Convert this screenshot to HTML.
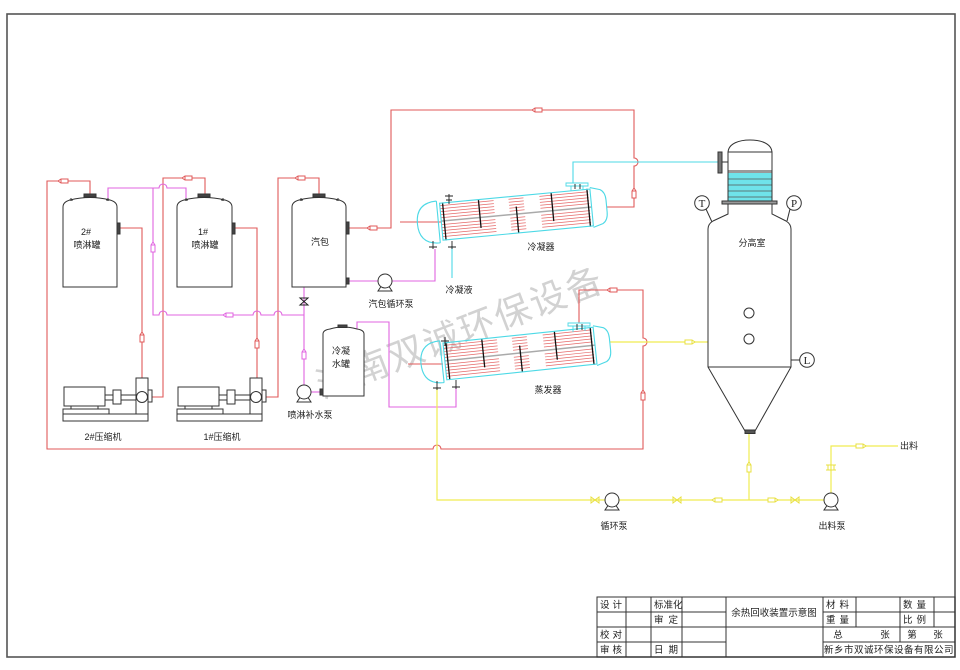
<!DOCTYPE html>
<html><head><meta charset="utf-8">
<style>
html,body{margin:0;padding:0;background:#fff;}
svg{display:block;}
text{font-family:"Liberation Sans","Noto Sans CJK SC",sans-serif;font-size:9px;fill:#222;}
.tb text{font-size:9.5px;}
</style></head>
<body>
<svg width="960" height="670" viewBox="0 0 960 670" xmlns="http://www.w3.org/2000/svg">
<defs>
  <g id="ah"><path d="M-5,0 L-2,-2 L5,-2 L5,2 L-2,2 Z" fill="#fff"/><line x1="-2" y1="-2" x2="-2" y2="2"/></g>
  <g id="vh"><path d="M-4,-3 V3 L4,-3 V3 Z" fill="none"/></g>
  <g id="pump"><circle cx="0" cy="0" r="7" fill="#fff"/><path d="M-4,5.5 L-7,10 H7 L4,5.5" fill="none"/></g>
</defs>

<!-- outer frame -->
<rect x="7" y="14" width="948" height="643" fill="none" stroke="#555" stroke-width="1.6"/>

<!-- watermark -->
<text x="460" y="345" text-anchor="middle" transform="rotate(-21 460 332)" style="font-size:36px;fill:#d2d2d2;letter-spacing:2px;font-family:'Noto Sans CJK SC',sans-serif;">河南双诚环保设备</text>

<!-- ============ RED PIPES ============ -->
<g fill="none" stroke="#e05a5a" stroke-width="1.1">
  <path d="M579,323 V290 H643 V338 A4,4 0 0 1 643,346 V449 H441 A4,4 0 0 0 433,449 H47 V181 H90 V196"/>
  <path d="M120,228 H142 V378"/>
  <path d="M152,397 H163 V178 H205 V196"/>
  <path d="M235,228 H257 V378"/>
  <path d="M266,397 H278 V178 H319 V196"/>
  <path d="M349,228 H391 V110 H634 V158 A4,4 0 0 1 634,166 V207 H607"/>
  <line x1="400" y1="222" x2="441" y2="222"/>
  <line x1="408" y1="364" x2="443" y2="364"/>
</g>
<g stroke="#e05a5a" stroke-width="1">
  <use href="#ah" transform="translate(63,181)"/>
  <use href="#ah" transform="translate(142,337) rotate(90)"/>
  <use href="#ah" transform="translate(187,178)"/>
  <use href="#ah" transform="translate(257,343) rotate(90)"/>
  <use href="#ah" transform="translate(300,178)"/>
  <use href="#ah" transform="translate(372,228)"/>
  <use href="#ah" transform="translate(537,110)"/>
  <use href="#ah" transform="translate(634,193) rotate(90)"/>
  <use href="#ah" transform="translate(612,290)"/>
  <use href="#ah" transform="translate(643,395) rotate(90)"/>
</g>

<!-- ============ MAGENTA PIPES ============ -->
<g fill="none" stroke="#e065e0" stroke-width="1.1">
  <path d="M108,200 V188 H159 A4,4 0 0 1 167,188 H186 V200"/>
  <path d="M153,188 V315 H159 A4,4 0 0 1 167,315 H253 A4,4 0 0 1 261,315 H274 A4,4 0 0 1 282,315 H304"/>
  <path d="M304,287 V385"/>
  <path d="M311,392 H322"/>
  <path d="M357,330 V322 H389 V407 H456 V387"/>
  <path d="M349,281 H378"/>
  <path d="M392,281 H435 V249"/>
</g>
<g stroke="#e065e0" stroke-width="1">
  <use href="#ah" transform="translate(153,247) rotate(90)"/>
  <use href="#ah" transform="translate(228,315)"/>
  <use href="#ah" transform="translate(304,354) rotate(90)"/>
</g>
<g stroke="#222" stroke-width="1"><path d="M300,298 H308 L300,305 H308 Z" fill="none"/></g>

<!-- ============ CYAN PIPES ============ -->
<g fill="none" stroke="#4dd9e6" stroke-width="1.1">
  <path d="M452,246 V278"/>
  <path d="M573,183 V162 H722"/>
</g>

<!-- ============ YELLOW PIPES ============ -->
<g fill="none" stroke="#f0ec50" stroke-width="1.2">
  <path d="M610,342 H708"/>
  <path d="M437,388 V500 H606"/>
  <path d="M619,500 H824"/>
  <path d="M749,500 V434"/>
  <path d="M831,493 V446 H898"/>
</g>
<g stroke="#e8e040" stroke-width="1">
  <use href="#ah" transform="translate(690,342) rotate(180)"/>
  <use href="#ah" transform="translate(717,500)"/>
  <use href="#ah" transform="translate(773,500) rotate(180)"/>
  <use href="#ah" transform="translate(749,467) rotate(90)"/>
  <use href="#ah" transform="translate(861,446) rotate(180)"/>
  <use href="#vh" transform="translate(595,500)"/>
  <use href="#vh" transform="translate(677,500)"/>
  <use href="#vh" transform="translate(795,500)"/>
  <path d="M826,465 H836 M826,470 H836 M828,465 V470 M834,465 V470" fill="none"/>
</g>

<!-- ============ TANKS ============ -->
<g fill="#fff" stroke="#333" stroke-width="1">
  <path d="M63,287 V207 Q63,202 70,200 Q90,195 110,200 Q117,202 117,207 V287 Z"/>
  <rect x="84" y="194" width="12" height="3" fill="#444"/>
  <path d="M69,200 H73 M71,198 V201 M106,200 H110 M108,198 V201" fill="none"/>
  <rect x="117" y="223" width="3" height="11" fill="#444"/>
  <path d="M177,287 V207 Q177,202 184,200 Q204,195 225,200 Q232,202 232,207 V287 Z"/>
  <rect x="198" y="194" width="12" height="3" fill="#444"/>
  <path d="M184,200 H188 M186,198 V201 M221,200 H225 M223,198 V201" fill="none"/>
  <rect x="232" y="223" width="3" height="11" fill="#444"/>
  <path d="M292,287 V207 Q292,202 299,200 Q319,195 339,200 Q346,202 346,207 V287 Z"/>
  <rect x="313" y="194" width="12" height="3" fill="#444"/>
  <path d="M299,200 H303 M301,198 V201 M336,200 H340 M338,198 V201" fill="none"/>
  <rect x="346" y="222" width="3" height="12" fill="#444"/>
  <rect x="346" y="278" width="3" height="6" fill="#444"/>
  <path d="M323,396 V334 Q323,330 330,329 Q343,325 357,329 Q364,330 364,334 V396 Z"/>
  <rect x="338" y="325" width="9" height="2.5" fill="#444"/>
  <rect x="320" y="389" width="3" height="6" fill="#444"/>
</g>

<!-- pumps -->
<g stroke="#333" stroke-width="1">
  <use href="#pump" transform="translate(304,392)"/>
  <use href="#pump" transform="translate(385,281)"/>
  <use href="#pump" transform="translate(612,500)"/>
  <use href="#pump" transform="translate(831,500)"/>
</g>

<!-- ============ COMPRESSORS ============ -->
<g fill="#fff" stroke="#333" stroke-width="1">
  <g>
    <rect x="64" y="387" width="41" height="19"/>
    <rect x="71" y="406" width="27" height="3"/>
    <rect x="63" y="409" width="46" height="5"/>
    <rect x="63" y="414" width="85" height="7"/>
    <rect x="105" y="395" width="8" height="5"/>
    <rect x="113" y="390" width="8" height="14"/>
    <rect x="121" y="395" width="15" height="5"/>
    <rect x="136" y="378" width="12" height="36"/>
    <circle cx="142" cy="397" r="5.5"/>
    <rect x="148" y="390" width="4" height="12"/>
  </g>
  <g transform="translate(114,0)">
    <rect x="64" y="387" width="41" height="19"/>
    <rect x="71" y="406" width="27" height="3"/>
    <rect x="63" y="409" width="46" height="5"/>
    <rect x="63" y="414" width="85" height="7"/>
    <rect x="105" y="395" width="8" height="5"/>
    <rect x="113" y="390" width="8" height="14"/>
    <rect x="121" y="395" width="15" height="5"/>
    <rect x="136" y="378" width="12" height="36"/>
    <circle cx="142" cy="397" r="5.5"/>
    <rect x="148" y="390" width="4" height="12"/>
  </g>
</g>

<!-- ============ CONDENSER ============ -->
<g transform="translate(512,215) rotate(-5.4)">
  <g stroke="#e56a6a" stroke-width="0.75">
    <path d="M-71,-16 H-17 M-71,-13 H-17 M-71,-10 H-17 M-71,-7 H-17 M-71,-4 H-17 M-71,3 H-17 M-71,6 H-17 M-71,9 H-17 M-71,12 H-17 M-71,15 H-17"/>
    <path d="M-2,-16 H13 M-2,-13 H13 M-2,-10 H13 M-2,-7 H13 M-2,-4 H13 M-2,3 H13 M-2,6 H13 M-2,9 H13 M-2,12 H13 M-2,15 H13"/>
    <path d="M29,-16 H78 M29,-13 H78 M29,-10 H78 M29,-7 H78 M29,-4 H78 M29,3 H78 M29,6 H78 M29,9 H78 M29,12 H78 M29,15 H78"/>
  </g>
  <line x1="-71" y1="-0.5" x2="80" y2="-0.5" stroke="#aaa" stroke-width="1.5"/>
  <g stroke="#111" stroke-width="1.3">
    <line x1="-32" y1="-18.5" x2="-32" y2="10"/>
    <line x1="5" y1="-8" x2="5" y2="18.5"/>
    <line x1="41" y1="-18.5" x2="41" y2="10"/>
    <line x1="-68" y1="-19" x2="-68" y2="19"/>
    <line x1="77" y1="-19" x2="77" y2="19"/>
  </g>
  <g fill="none" stroke="#4dd9e6" stroke-width="1.1">
    <rect x="-71" y="-18.5" width="151" height="37"/>
    <path d="M-74,-21 Q-95,-21 -95,0 Q-95,21 -74,21"/>
    <line x1="-74" y1="-21" x2="-74" y2="21"/>
    <path d="M80,-20 L90,-17 Q95,-14 95,-6 V6 Q95,14 90,17 L80,20"/>
  </g>
</g>
<g stroke="#222" stroke-width="0.9" fill="none">
  <path d="M445,196 H453 M449,194 V204 M446,200 H452"/>
  <path d="M429,247 H437 M433,241 V249 M448,247 H456 M452,241 V249"/>
  <path d="M566,183 H588 V186 H566 Z M571,186 V191 M583,186 V190" stroke="#4dd9e6"/>
  <path d="M575,184 V189 M580,184 V189"/>
</g>

<!-- ============ EVAPORATOR ============ -->
<g transform="translate(515.5,354) rotate(-6)">
  <g stroke="#e56a6a" stroke-width="0.75">
    <path d="M-71,-16 H-17 M-71,-13 H-17 M-71,-10 H-17 M-71,-7 H-17 M-71,-4 H-17 M-71,3 H-17 M-71,6 H-17 M-71,9 H-17 M-71,12 H-17 M-71,15 H-17"/>
    <path d="M-2,-16 H13 M-2,-13 H13 M-2,-10 H13 M-2,-7 H13 M-2,-4 H13 M-2,3 H13 M-2,6 H13 M-2,9 H13 M-2,12 H13 M-2,15 H13"/>
    <path d="M29,-16 H78 M29,-13 H78 M29,-10 H78 M29,-7 H78 M29,-4 H78 M29,3 H78 M29,6 H78 M29,9 H78 M29,12 H78 M29,15 H78"/>
  </g>
  <line x1="-71" y1="-0.5" x2="80" y2="-0.5" stroke="#aaa" stroke-width="1.5"/>
  <g stroke="#111" stroke-width="1.3">
    <line x1="-32" y1="-18.5" x2="-32" y2="10"/>
    <line x1="5" y1="-8" x2="5" y2="18.5"/>
    <line x1="41" y1="-18.5" x2="41" y2="10"/>
    <line x1="-68" y1="-19" x2="-68" y2="19"/>
    <line x1="77" y1="-19" x2="77" y2="19"/>
  </g>
  <g fill="none" stroke="#4dd9e6" stroke-width="1.1">
    <rect x="-71" y="-18.5" width="151" height="37"/>
    <path d="M-74,-21 Q-95,-21 -95,0 Q-95,21 -74,21"/>
    <line x1="-74" y1="-21" x2="-74" y2="21"/>
    <path d="M80,-20 L90,-17 Q95,-14 95,-6 V6 Q95,14 90,17 L80,20"/>
  </g>
</g>
<g stroke="#222" stroke-width="0.9" fill="none">
  <path d="M441,341 H449 M445,337 V346"/>
  <path d="M433,388 H441 M437,381 V390 M452,387 H460 M456,380 V389"/>
  <path d="M568,323 H590 V326 H568 Z M573,326 V332 M585,326 V331" stroke="#4dd9e6"/>
  <path d="M577,324 V330 M582,324 V330"/>
</g>

<!-- ============ SEPARATOR ============ -->
<g stroke="#333" stroke-width="1" fill="none">
  <path d="M728,153 C728,143 740,140 750,140 C760,140 772,143 772,153" fill="#fff"/>
  <rect x="728" y="152" width="44" height="49" fill="#fff"/>
  <rect x="728" y="170" width="44" height="31" fill="#6fe3ea" stroke="none"/>
  <rect x="728" y="170" width="44" height="3" fill="#999" stroke="none"/>
  <path d="M728,179 H772 M728,185 H772 M728,191 H772 M728,197 H772" stroke="#555" stroke-width="0.8"/>
  <line x1="728" y1="170" x2="728" y2="201"/>
  <line x1="772" y1="170" x2="772" y2="201"/>
  <rect x="722" y="201" width="55" height="3" fill="#999"/>
  <rect x="718" y="152" width="4" height="21" fill="#777"/>
  <line x1="722" y1="162" x2="728" y2="162"/>
  <path d="M728,204 V214 L713,221 Q708,224 708,229 V367 L745,431 M755,431 L791,367 V229 Q791,224 786,221 L772,214 V204"/>
  <line x1="708" y1="367" x2="791" y2="367"/>
  <rect x="745" y="430" width="10" height="3.5" fill="#555"/>
  <circle cx="749" cy="313" r="5"/>
  <circle cx="749" cy="339" r="5"/>
  <circle cx="702" cy="203" r="7.3" fill="#fff"/>
  <line x1="706" y1="209" x2="712" y2="222"/>
  <circle cx="794" cy="203" r="7.3" fill="#fff"/>
  <line x1="790" y1="209" x2="787" y2="221"/>
  <circle cx="807" cy="360" r="7.3" fill="#fff"/>
  <line x1="791" y1="360" x2="800" y2="360"/>
</g>
<g text-anchor="middle">
  <text x="702" y="207" style="font-family:'Liberation Serif',serif;font-size:11px;">T</text>
  <text x="794" y="207" style="font-family:'Liberation Serif',serif;font-size:11px;">P</text>
  <text x="807" y="364" style="font-family:'Liberation Serif',serif;font-size:11px;">L</text>
</g>

<!-- ============ LABELS ============ -->
<g text-anchor="middle">
  <text x="86" y="235">2#</text>
  <text x="87" y="248">喷淋罐</text>
  <text x="203" y="235">1#</text>
  <text x="205" y="248">喷淋罐</text>
  <text x="320" y="245">汽包</text>
  <text x="391" y="307">汽包循环泵</text>
  <text x="459" y="293">冷凝液</text>
  <text x="541" y="250">冷凝器</text>
  <text x="548" y="393">蒸发器</text>
  <text x="341" y="354">冷凝</text>
  <text x="341" y="367">水罐</text>
  <text x="310" y="418">喷淋补水泵</text>
  <text x="103" y="440">2#压缩机</text>
  <text x="222" y="440">1#压缩机</text>
  <text x="752" y="246">分高室</text>
  <text x="614" y="529">循环泵</text>
  <text x="832" y="529">出料泵</text>
</g>
<text x="900" y="449">出料</text>

<!-- ============ TITLE BLOCK ============ -->
<g class="tb">
  <g stroke="#333" stroke-width="1" fill="none">
    <rect x="597" y="597" width="358" height="60"/>
    <path d="M597,612 H726 M823,612 H955 M597,627 H955 M597,642 H726 M823,642 H955"/>
    <path d="M626,597 V657 M651,597 V657 M682,597 V657 M726,597 V657 M823,597 V657 M856,597 V627 M900,597 V642 M934,597 V627"/>
  </g>
  <text x="600" y="608" style="letter-spacing:3px;">设计</text>
  <text x="654" y="608">标准化</text>
  <text x="654" y="623" style="letter-spacing:5px;">审定</text>
  <text x="600" y="638" style="letter-spacing:3px;">校对</text>
  <text x="600" y="653" style="letter-spacing:3px;">审核</text>
  <text x="654" y="653" style="letter-spacing:5px;">日期</text>
  <text x="774" y="616" text-anchor="middle">余热回收装置示意图</text>
  <text x="826" y="608" style="letter-spacing:4px;">材料</text>
  <text x="826" y="623" style="letter-spacing:4px;">重量</text>
  <text x="903" y="608" style="letter-spacing:4px;">数量</text>
  <text x="903" y="623" style="letter-spacing:4px;">比例</text>
  <text x="838" y="638" text-anchor="middle">总</text>
  <text x="885" y="638" text-anchor="middle">张</text>
  <text x="912" y="638" text-anchor="middle">第</text>
  <text x="938" y="638" text-anchor="middle">张</text>
  <text x="889" y="653" text-anchor="middle" style="letter-spacing:0.5px;">新乡市双诚环保设备有限公司</text>
</g>
</svg>
</body></html>
